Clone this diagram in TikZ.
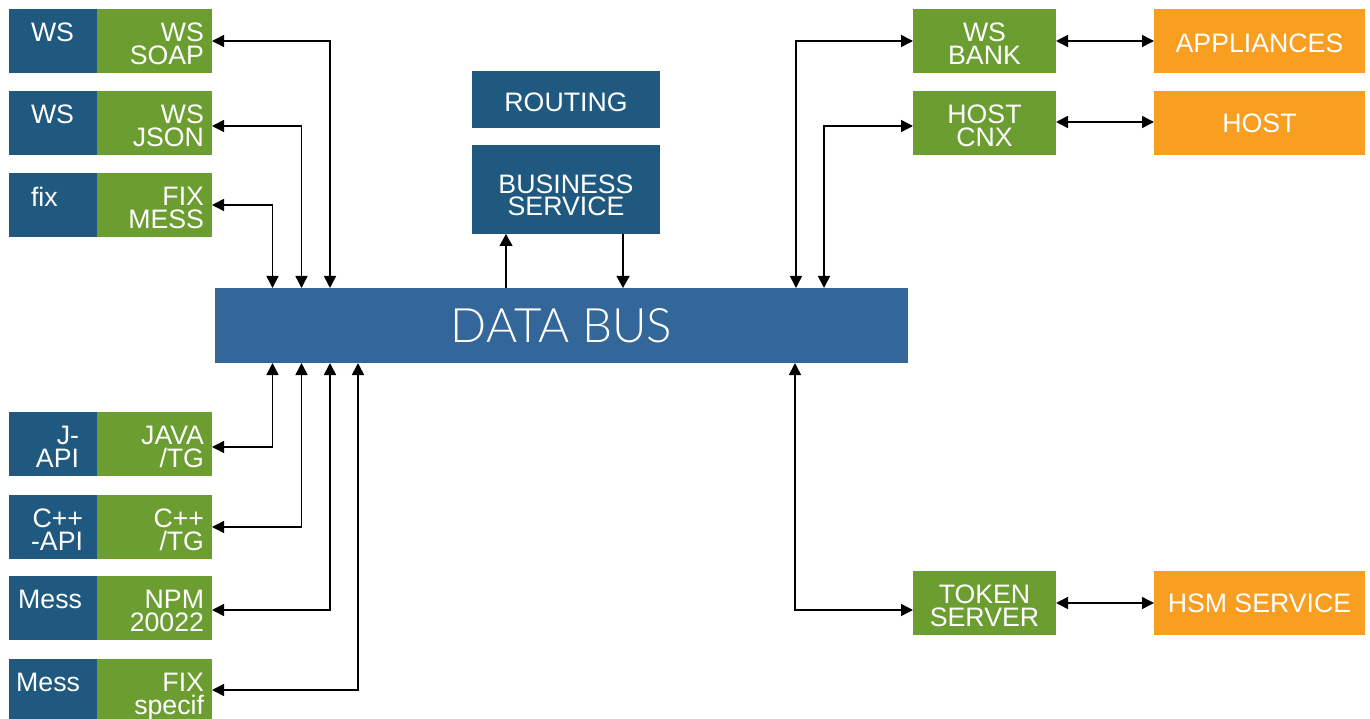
\documentclass[tikz,border=0pt]{standalone}
\usepackage{fontspec}
\setmainfont{Liberation Sans}
\newfontfamily\busfont{Lato Light}
\usetikzlibrary{arrows.meta}
\definecolor{navy}{RGB}{31,89,128}
\definecolor{busblue}{RGB}{51,102,153}
\definecolor{leaf}{RGB}{107,157,49}
\definecolor{amber}{RGB}{248,158,33}
\begin{document}
\begin{tikzpicture}[x=1pt,y=-1pt,
  box/.style={draw=none, inner sep=0pt, outer sep=0pt, anchor=north west},
  bluebox/.style={box, fill=navy, minimum width=88pt, minimum height=64pt},
  greenbox/.style={box, fill=leaf, minimum width=115pt, minimum height=64pt},
  rgreenbox/.style={box, fill=leaf, minimum width=143pt, minimum height=64pt},
  orangebox/.style={box, fill=amber, minimum width=211pt, minimum height=64pt},
  txt/.style={text=white, inner sep=0pt, outer sep=0pt, font=\fontsize{26.7}{23}\selectfont},
  link/.style={line width=1.5pt, {Triangle[length=12pt,width=12pt]}-{Triangle[length=12pt,width=12pt]}},
  oneway/.style={line width=1.1pt, -{Triangle[length=12pt,width=13pt]}},
]
\useasboundingbox (0,0) rectangle (1370,719);

% ---------- left column: API / adapter pairs ----------
\node[bluebox] (b1) at (9,9) {};
\node[greenbox] (g1) at (97,9) {};
\node[bluebox] (b2) at (9,91) {};
\node[greenbox] (g2) at (97,91) {};
\node[bluebox] (b3) at (9,173) {};
\node[greenbox] (g3) at (97,173) {};
\node[bluebox] (b4) at (9,412) {};
\node[greenbox] (g4) at (97,412) {};
\node[bluebox] (b5) at (9,495) {};
\node[greenbox] (g5) at (97,495) {};
\node[bluebox] (b6) at (9,576) {};
\node[greenbox] (g6) at (97,576) {};
\node[bluebox, minimum height=60pt] (b7) at (9,659) {};
\node[greenbox, minimum height=60pt] (g7) at (97,659) {};

\node[txt, anchor=north west] (bt1) at ([xshift=22pt,yshift=-14.3pt]b1.north west) {WS};
\node[txt, anchor=north west] (bt2) at ([xshift=22pt,yshift=-14.3pt]b2.north west) {WS};
\node[txt, anchor=north west] (bt3) at ([xshift=22pt,yshift=-13.8pt]b3.north west) {fix};
\node[txt, anchor=north east, align=right] (bt4) at ([xshift=70pt,yshift=-14.3pt]b4.north west) {J-\\API};
\node[txt, anchor=north east, align=right] (bt5) at ([xshift=74pt,yshift=-14.3pt]b5.north west) {C++\\-API};
\node[txt, anchor=north east] (bt6) at ([xshift=73pt,yshift=-14.3pt]b6.north west) {Mess};
\node[txt, anchor=north east] (bt7) at ([xshift=71pt,yshift=-14.3pt]b7.north west) {Mess};

\node[txt, anchor=north east, align=right] (gt1) at ([xshift=-8pt,yshift=-14.3pt]g1.north east) {WS\\SOAP};
\node[txt, anchor=north east, align=right] (gt2) at ([xshift=-8pt,yshift=-14.3pt]g2.north east) {WS\\JSON};
\node[txt, anchor=north east, align=right] (gt3) at ([xshift=-8pt,yshift=-14.3pt]g3.north east) {FIX\\MESS};
\node[txt, anchor=north east, align=right] (gt4) at ([xshift=-8pt,yshift=-14.3pt]g4.north east) {JAVA\\/TG};
\node[txt, anchor=north east, align=right] (gt5) at ([xshift=-8pt,yshift=-14.3pt]g5.north east) {C++\\/TG};
\node[txt, anchor=north east, align=right] (gt6) at ([xshift=-8pt,yshift=-14.3pt]g6.north east) {NPM\\20022};
\node[txt, anchor=north east, align=right] (gt7) at ([xshift=-8pt,yshift=-14.3pt]g7.north east) {FIX\\specif};

% ---------- centre: routing, business service, data bus ----------
\node[box, fill=navy, minimum width=188pt, minimum height=57pt] (routing) at (472,71) {};
\node[txt] (routingt) at ([yshift=-2.5pt]routing.center) {ROUTING};
\node[box, fill=navy, minimum width=188pt, minimum height=89pt] (biz) at (472,145) {};
\node[txt, anchor=north, align=center, font=\fontsize{26.7}{22}\selectfont] (bizt) at ([yshift=-30pt]biz.north) {BUSINESS\\SERVICE};
\node[box, fill=busblue, minimum width=693pt, minimum height=75pt] (bus) at (215,288) {};
\node[text=white, inner sep=0pt, font=\busfont\fontsize{47.5}{50}\selectfont] (bust) at (bus.center) {DATA BUS};

% ---------- right column: bank side ----------
\node[rgreenbox] (bank) at (913,9) {};
\node[rgreenbox] (cnx) at (913,91) {};
\node[rgreenbox] (token) at (913,571) {};
\node[orangebox] (appl) at (1154,9) {};
\node[orangebox] (host) at (1154,91) {};
\node[orangebox] (hsm) at (1154,571) {};

\node[txt, anchor=north, align=center] (bankt) at ([yshift=-14.3pt]bank.north) {WS\\BANK};
\node[txt, anchor=north, align=center] (cnxt) at ([yshift=-14.3pt]cnx.north) {HOST\\CNX};
\node[txt, anchor=north, align=center] (tokent) at ([yshift=-14.3pt]token.north) {TOKEN\\SERVER};
\node[txt] (applt) at ([yshift=-2pt]appl.center) {APPLIANCES};
\node[txt] (hostt) at (host.center) {HOST};
\node[txt] (hsmt) at (hsm.center) {HSM SERVICE};

% ---------- attachment points on the bus ----------
\coordinate (n1) at ([xshift=57.5pt]bus.north west);
\coordinate (n2) at ([xshift=86.5pt]bus.north west);
\coordinate (n3) at ([xshift=115pt]bus.north west);
\coordinate (nup) at ([xshift=291pt]bus.north west);
\coordinate (ndn) at ([xshift=408pt]bus.north west);
\coordinate (n6) at ([xshift=581pt]bus.north west);
\coordinate (n7) at ([xshift=609pt]bus.north west);
\coordinate (s1) at ([xshift=57.5pt]bus.south west);
\coordinate (s2) at ([xshift=86.5pt]bus.south west);
\coordinate (s3) at ([xshift=115pt]bus.south west);
\coordinate (s4) at ([xshift=143pt]bus.south west);
\coordinate (s5) at ([xshift=580pt]bus.south west);

% ---------- connectors ----------
\draw[link] (g1.east) -| (n3);
\draw[link] ([yshift=-3pt]g2.east) -| (n2);
\draw[link] (g3.east) -| (n1);
\draw[link] ([yshift=-3pt]g4.east) -| (s1);
\draw[link] (g5.east) -| (s2);
\draw[link] ([yshift=-2pt]g6.east) -| (s3);
\draw[link] ([yshift=-1pt]g7.east) -| (s4);

\draw[link] (bank.west) -| (n6);
\draw[link] ([yshift=-3pt]cnx.west) -| (n7);
\draw[link] ([yshift=-7pt]token.west) -| (s5);

\draw[link] (bank.east) -- (appl.west);
\draw[link] ([yshift=1pt]cnx.east) -- ([yshift=1pt]host.west);
\draw[link] (token.east) -- (hsm.west);

\draw[oneway] (nup) -- (nup |- biz.south);
\draw[oneway] (ndn |- biz.south) -- (ndn);
\end{tikzpicture}
\end{document}
